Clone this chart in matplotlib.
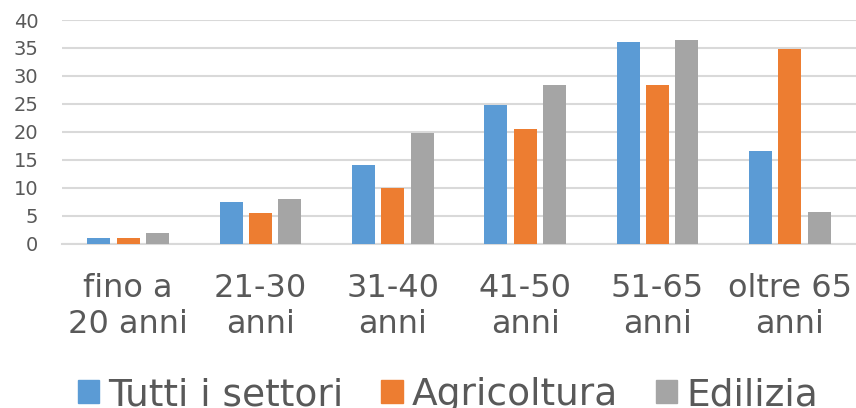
import numpy as np
import matplotlib.pyplot as plt
from matplotlib.patches import Patch

# age groups and share (%) per sector
categories = ['fino a\n20 anni', '21-30\nanni', '31-40\nanni', '41-50\nanni', '51-65\nanni', 'oltre 65\nanni']
tutti = [1.1, 7.45, 14.1, 24.8, 36.0, 16.6]
agricoltura = [1.0, 5.55, 10.0, 20.45, 28.4, 34.8]
edilizia = [1.9, 8.0, 19.8, 28.4, 36.4, 5.65]
series_names = ['Tutti i settori', 'Agricoltura', 'Edilizia']
colors = ['#5B9BD5', '#ED7D31', '#A5A5A5']

text_col = '#595959'

fig = plt.figure(figsize=(8.56, 4.08), dpi=100)
ax = fig.add_axes([62 / 856, 1 - 243.7 / 408, 1 - 62 / 856, (243.7 - 20) / 408])

x = np.arange(len(categories))
w = 0.175
step = 0.222
for i, (vals, c) in enumerate(zip([tutti, agricoltura, edilizia], colors)):
    ax.bar(x + (i - 1) * step, vals, width=w, color=c, zorder=3)

ax.set_ylim(0, 40)
ax.set_xlim(-0.5, 5.5)
ax.set_yticks(range(0, 41, 5))
ax.set_xticks(x)
ax.set_xticklabels(categories, fontsize=23, color=text_col, linespacing=1.22)
ax.tick_params(axis='y', labelsize=14, colors=text_col, length=0, pad=17)
ax.tick_params(axis='x', length=0, pad=21)
ax.grid(axis='y', color='#D9D9D9', linewidth=1.5, zorder=0)
for s in ['top', 'right', 'left']:
    ax.spines[s].set_visible(False)
ax.spines['bottom'].set_color('#D9D9D9')
ax.spines['bottom'].set_linewidth(1.5)

handles = [Patch(color=c, label=n) for c, n in zip(colors, series_names)]
leg = fig.legend(handles=handles, loc='upper center', bbox_to_anchor=(448 / 856, 1 - 377 / 408),
                 ncol=3, frameon=False, fontsize=27, handlelength=0.57, handleheight=0.57,
                 handletextpad=0.25, columnspacing=1.0, borderpad=0, borderaxespad=0)
for t in leg.get_texts():
    t.set_color(text_col)

fig.savefig('out.png', dpi=100)
